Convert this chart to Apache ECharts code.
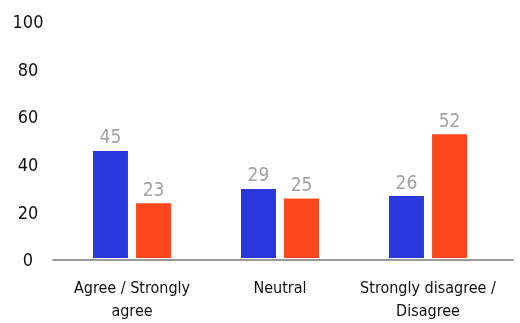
<!DOCTYPE html>
<html><head><meta charset="utf-8">
<script src="https://cdn.jsdelivr.net/npm/echarts@6/dist/echarts.min.js"></script>
<style>html,body{margin:0;padding:0;background:#fff}#c{width:520px;height:323px}</style>
</head><body><div id="c"></div>
<script>
const categories = ['Agree / Strongly\nagree', 'Neutral', 'Strongly disagree /\nDisagree'];
const seriesA = [45, 29, 26];
const seriesB = [23, 25, 52];
const yTicks = [0, 20, 40, 60, 80, 100];

const FONT = '"DejaVu Sans Condensed", "Roboto", sans-serif';
const chart = echarts.init(document.getElementById('c'));
chart.setOption({
  animation: false,
  textStyle: { fontFamily: FONT },
  grid: [
    { left: 58, right: 18, top: 20, bottom: 63 },
    { left: 53, right: 7, top: 20, bottom: 63 }
  ],
  xAxis: [
    { type: 'category', data: categories, gridIndex: 0,
      axisLine: { show: false }, axisTick: { show: false },
      axisLabel: { color: '#111', fontSize: 16, fontFamily: FONT, margin: 19, lineHeight: 23, interval: 0 } },
    { type: 'category', data: categories, gridIndex: 1,
      axisLine: { show: true, lineStyle: { color: '#9a9a9a', width: 2 } },
      axisTick: { show: false }, axisLabel: { show: false } }
  ],
  yAxis: [
    { type: 'value', gridIndex: 0, min: yTicks[0], max: yTicks[yTicks.length - 1], interval: 20,
      axisLine: { show: false }, axisTick: { show: false }, splitLine: { show: false },
      axisLabel: { color: '#111', fontSize: 18, fontFamily: FONT, margin: 30, align: 'center',
        formatter: v => yTicks.includes(v) ? '{v|' + v + '}' : '',
        rich: { v: { color: '#111', fontSize: 18, fontFamily: FONT, padding: [7, 0, 0, 0] } } } },
    { type: 'value', gridIndex: 1, min: 0, max: 100, show: false }
  ],
  series: [
    { type: 'bar', data: seriesA, xAxisIndex: 0, yAxisIndex: 0, barWidth: 35, barGap: '23%',
      itemStyle: { color: '#2838DC' },
      label: { show: true, position: 'top', color: '#a3a3a3', fontSize: 19, fontFamily: FONT, distance: 3 } },
    { type: 'bar', data: seriesB, xAxisIndex: 0, yAxisIndex: 0, barWidth: 35, barGap: '23%',
      itemStyle: { color: '#FF471E' },
      label: { show: true, position: 'top', color: '#a3a3a3', fontSize: 19, fontFamily: FONT, distance: 3 } }
  ]
});
</script></body></html>
